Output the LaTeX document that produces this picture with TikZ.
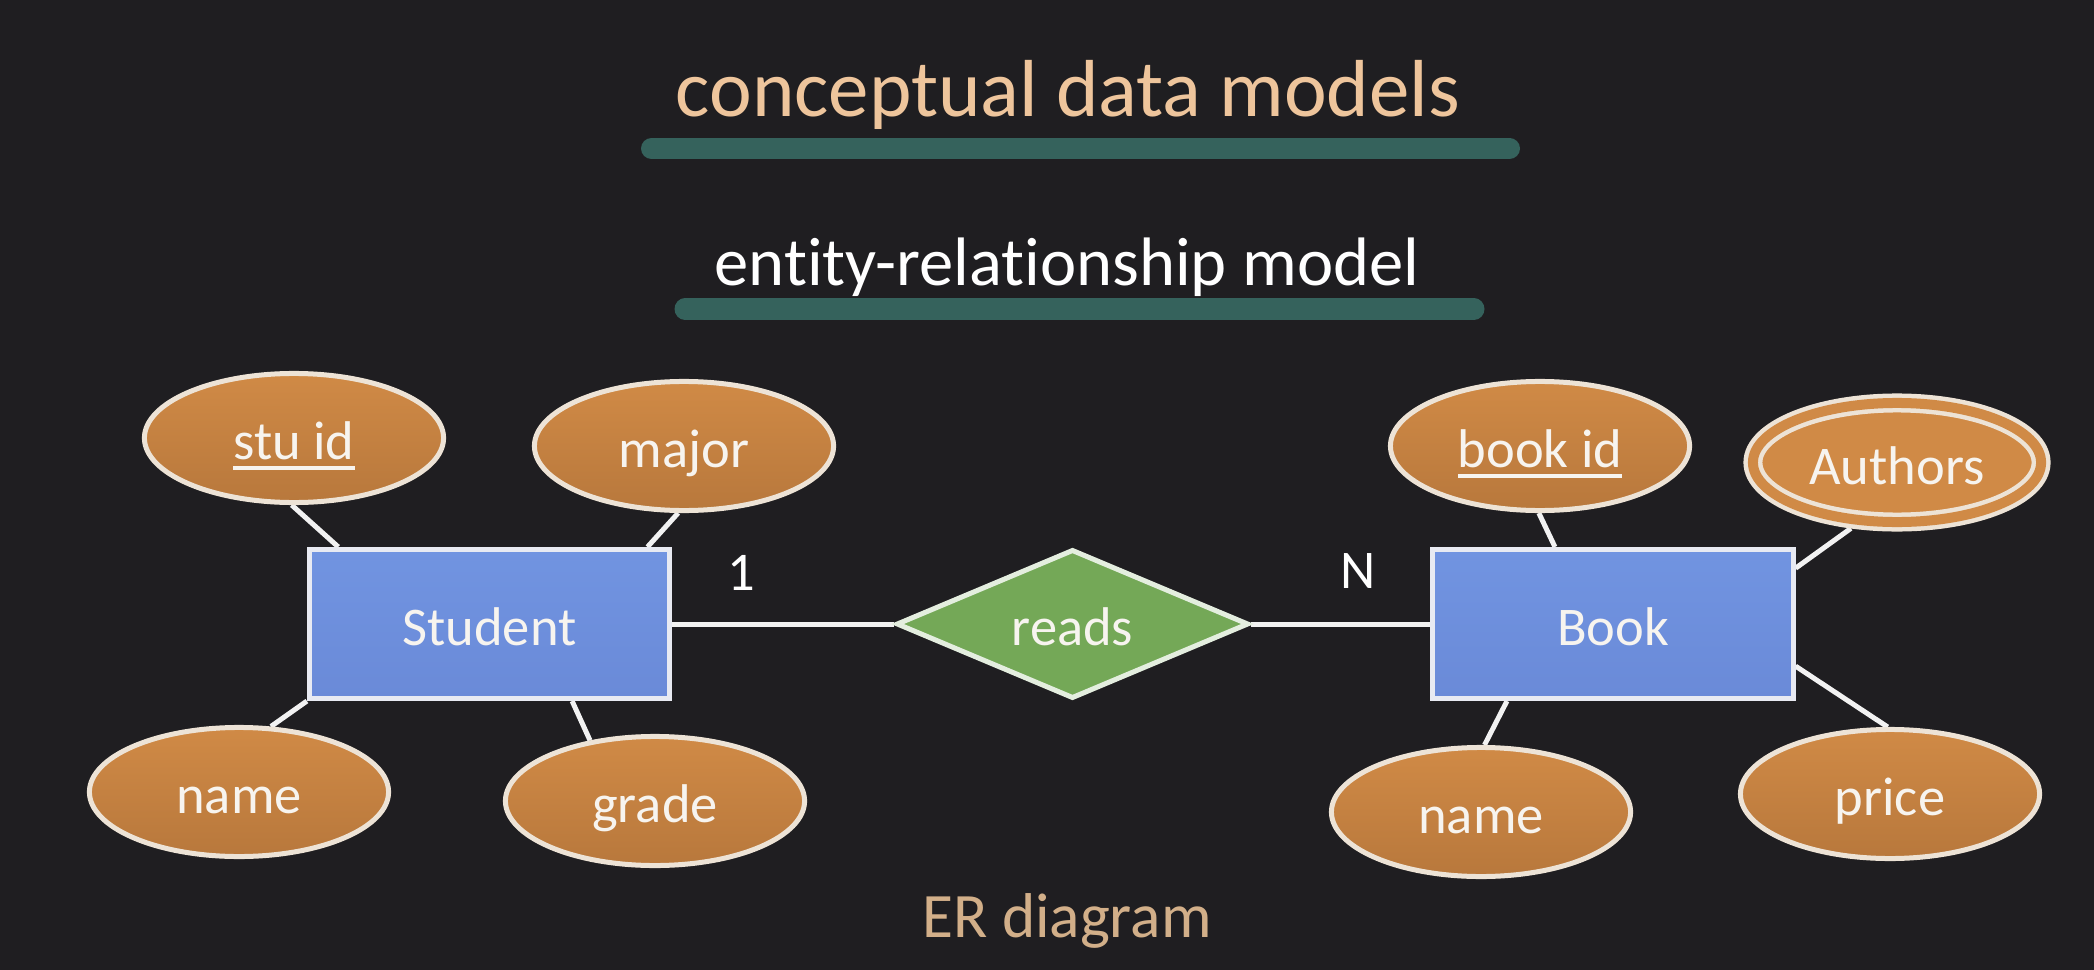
\documentclass[tikz,border=0pt]{standalone}
\usepackage{fontspec}
\setmainfont[Ligatures=NoCommon]{Carlito}
\usetikzlibrary{shapes.geometric,backgrounds}
\definecolor{bgc}{HTML}{1F1E21}
\definecolor{barc}{HTML}{35625C}
\definecolor{titlec}{HTML}{EEC59C}
\definecolor{erc}{HTML}{D2AF89}
\definecolor{ellt}{HTML}{D08A46}
\definecolor{ellb}{HTML}{B8783C}
\definecolor{ellline}{HTML}{EDE3D6}
\definecolor{rectt}{HTML}{7194E1}
\definecolor{rectb}{HTML}{6A8AD8}
\definecolor{rectline}{HTML}{E8EAF2}
\definecolor{diafill}{HTML}{74A857}
\definecolor{dialine}{HTML}{E4EEDF}
\definecolor{linec}{HTML}{F2F2F2}
\definecolor{labc}{HTML}{F7F4EF}
\newcommand{\keyul}[1]{\begingroup\setbox0=\hbox{#1}\rlap{\rule[-2.9pt]{\wd0}{1.2pt}}\box0\endgroup}
\begin{document}
\begin{tikzpicture}[x=0.01cm,y=-0.01cm,
  lab/.style={text=labc, font=\fontsize{15.5}{18}\selectfont, text height=12.4pt, text depth=0pt},
  attr/.style={ellipse, draw=ellline, line width=0.05cm, top color=ellt, bottom color=ellb,
    minimum width=2.99cm, minimum height=1.29cm, inner sep=0pt, lab},
  multiattr/.style={ellipse, draw=ellline, line width=0.045cm, fill=ellt, double=ellt,
    double distance=0.10cm, outer sep=0.095cm,
    minimum width=2.88cm, minimum height=1.19cm, inner sep=0pt, lab},
  entity/.style={rectangle, draw=rectline, line width=0.05cm, top color=rectt, bottom color=rectb,
    minimum width=3.60cm, minimum height=1.49cm, inner sep=0pt, lab},
  relation/.style={diamond, draw=dialine, line width=0.05cm, fill=diafill, aspect=2.34,
    minimum width=3.52cm, minimum height=1.49cm, inner sep=0pt, lab},
  conn/.style={draw=linec, line width=0.05cm},
  card/.style={text=white, font=\fontsize{15.5}{18}\selectfont, inner sep=0pt},
  bar/.style={draw=barc, line width=0.21cm, line cap=round}
]
\useasboundingbox (0,0) rectangle (2094,970);

% titles
\node[anchor=base, text=titlec, font=\fontsize{23}{26}\selectfont, inner sep=0pt] (title) at (1068,117) {conceptual data models};
\draw[bar] (651.5,148.5) -- (1509.5,148.5);
\node[anchor=base, text=white, font=\fontsize{19.5}{22}\selectfont, inner sep=0pt] (subtitle) at (1067,285) {entity-relationship model};
\draw[bar] (685,309) -- (1474,309);

% entities and relationship
\node[entity] (student) at (489.5,624) {Student};
\node[entity] (book) at (1613,624) {Book};
\node[relation] (reads) at (1072.5,624) {reads};

% attributes
\node[attr] (stuid) at (294,438) {\keyul{stu id}};
\node[attr] (major) at (684,446) {major};
\node[attr] (nameL) at (239,792) {name};
\node[attr] (grade) at (655,801) {grade};
\node[attr] (bookid) at (1540,446) {\keyul{book id}};
\node[multiattr] (authors) at (1897,462.5) {Authors};
\node[attr] (nameR) at (1481,812) {name};
\node[attr] (price) at (1890,794) {price};

% cardinalities
\node[card] (one) at (741,573) {1};
\node[card] (many) at (1358,571) {N};

% caption
\node[anchor=base, text=erc, font=\fontsize{18}{21}\selectfont, inner sep=0pt] (caption) at (1067,937) {ER diagram};

\begin{scope}[on background layer]
\fill[bgc] (0,0) rectangle (2094,970);
\draw[conn] (student.east) -- (reads.west);
\draw[conn] (reads.east) -- (book.west);
\draw[conn] (stuid.268) -- (student.153);
\draw[conn] (major.265) -- (student.26.3);
\draw[conn] (nameL.64) -- (student.south west);
\draw[conn] (grade.137.5) -- (student.-43.7);
\draw[conn] (bookid.269) -- (book.127.9);
\draw[conn] (authors.235) -- (book.17.9);
\draw[conn] (nameR.87) -- (book.216.8);
\draw[conn] (price.92) -- (book.-13.5);
\end{scope}
\end{tikzpicture}
\end{document}
